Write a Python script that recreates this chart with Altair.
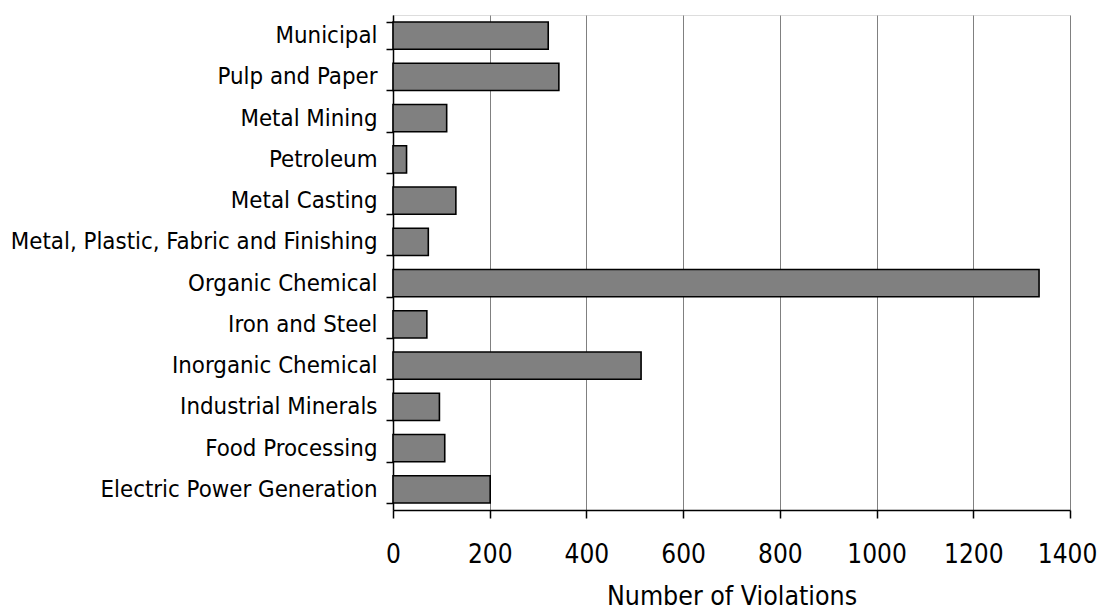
import altair as alt
import pandas as pd

categories = [
    "Municipal",
    "Pulp and Paper",
    "Metal Mining",
    "Petroleum",
    "Metal Casting",
    "Metal, Plastic, Fabric and Finishing",
    "Organic Chemical",
    "Iron and Steel",
    "Inorganic Chemical",
    "Industrial Minerals",
    "Food Processing",
    "Electric Power Generation",
]
violations = [321, 343, 111, 28, 130, 73, 1336, 70, 513, 96, 107, 201]
x_ticks = [0, 200, 400, 600, 800, 1000, 1200, 1400]

df = pd.DataFrame({"Sector": categories, "Violations": violations})

FONT = "DejaVu Sans Condensed, DejaVu Sans, sans-serif"

chart = (
    alt.Chart(df)
    .mark_bar(fill="#808080", stroke="black", strokeWidth=1.6)
    .encode(
        x=alt.X(
            "Violations:Q",
            scale=alt.Scale(domain=[0, 1400], nice=False, zero=True),
            axis=alt.Axis(
                title="Number of Violations",
                values=x_ticks,
                format="d",
                grid=True,
                gridColor="#808080",
                gridWidth=1,
                domainColor="black",
                domainWidth=1.5,
                tickColor="black",
                tickWidth=1.5,
                tickSize=8,
                labelPadding=23,
                labelFlush=False,
                labelOverlap=False,
                labelOffset={"condition": {"test": "datum.value >= 1400", "value": -3}, "value": 0},
                labelFont=FONT,
                labelFontSize=26,
                labelColor="black",
                titleFont=FONT,
                titleFontSize=26.5,
                titleFontWeight="normal",
                titleColor="black",
                titlePadding=16,
            ),
        ),
        y=alt.Y(
            "Sector:N",
            sort=categories,
            scale=alt.Scale(paddingInner=0.34, paddingOuter=0.17),
            axis=alt.Axis(
                title=None,
                tickBand="extent",
                domainColor="black",
                domainWidth=1.5,
                tickColor="black",
                tickWidth=1.5,
                tickSize=7,
                labelPadding=9,
                labelFont=FONT,
                labelFontSize=23.8,
                labelColor="black",
                labelLimit=500,
            ),
        ),
    )
    .properties(
        width=677,
        height=495,
        autosize="none",
        padding={"left": 385, "top": 7, "right": 27, "bottom": 100},
    )
    .configure_view(stroke="black", strokeWidth=1.5)
    .configure(background="white")
)

chart.save("out.html", embed_options={"renderer": "svg", "actions": False})
